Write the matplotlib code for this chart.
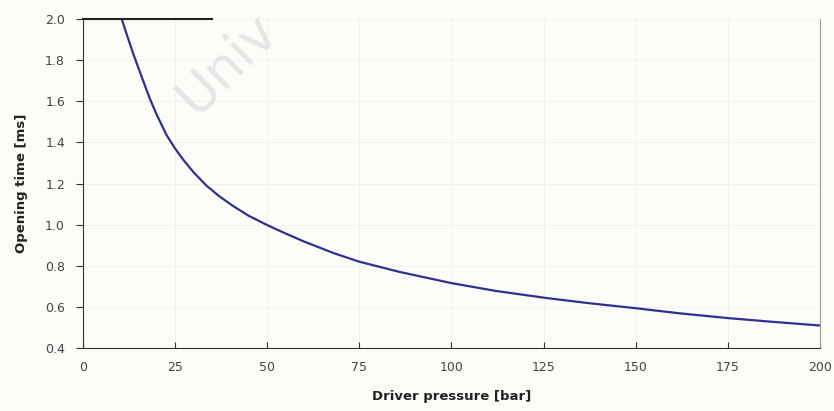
import matplotlib
matplotlib.use('Agg')
from matplotlib import pyplot as plt

# Opening time of the diaphragm vs driver pressure
pressure = [10.5, 12, 13.6, 16, 18.2, 20, 22.7, 25, 27.2, 30, 33.5, 37, 40.8, 45,
            50, 55, 60, 68, 75, 86, 100, 112, 126, 138, 150, 162, 175, 187, 200]
opening_time = [2.0, 1.918, 1.833, 1.715, 1.61, 1.535, 1.435, 1.37, 1.316, 1.255, 1.19, 1.138, 1.09, 1.043,
                0.998, 0.957, 0.918, 0.862, 0.82, 0.77, 0.716, 0.678, 0.643, 0.617, 0.594, 0.569, 0.546, 0.528, 0.51]

x_ticks = [0, 25, 50, 75, 100, 125, 150, 175, 200]
y_ticks = [0.4, 0.6, 0.8, 1.0, 1.2, 1.4, 1.6, 1.8, 2.0]

bg = '#fefcf9'
fig = plt.figure(figsize=(8.34, 4.11), dpi=100, facecolor=bg)

# faint watermark behind the plot
fig.text(0.272, 0.845, 'Univ', fontsize=38, color='#e6e6e6', rotation=45,
         ha='center', va='center', zorder=0)

ax = fig.add_axes([0.0995, 0.153, 0.8835, 0.801])
ax.patch.set_alpha(0)

ax.plot(pressure, opening_time, color='#2e3190', lw=1.6)

# upper limit line of the plot window
ax.plot([0, 35], [2.0, 2.0], color='#222222', lw=1.5, clip_on=False)

ax.set_xlim(0, 200)
ax.set_ylim(0.4, 2.0)
ax.set_xticks(x_ticks)
ax.set_yticks(y_ticks)
ax.set_xticklabels([str(t) for t in x_ticks])
ax.set_yticklabels(['%.1f' % t for t in y_ticks])
ax.grid(True, color='#f0efed', lw=0.6)

ax.spines['top'].set_visible(False)
ax.spines['right'].set_color('#9a9a9a')
ax.spines['left'].set_color('#333333')
ax.spines['bottom'].set_color('#333333')
ax.tick_params(axis='x', direction='in', length=4, color='#333333', labelsize=9, labelcolor='#444444', pad=9)
ax.tick_params(axis='y', direction='out', length=5, color='#333333', labelsize=9, labelcolor='#444444', pad=8)

ax.set_xlabel('Driver pressure [bar]', fontsize=9.5, fontweight='bold', color='#222222', labelpad=12)
ax.set_ylabel('Opening time [ms]', fontsize=9.5, fontweight='bold', color='#222222', labelpad=12)

plt.savefig('out.png', dpi=100, facecolor=bg)
print("done")
